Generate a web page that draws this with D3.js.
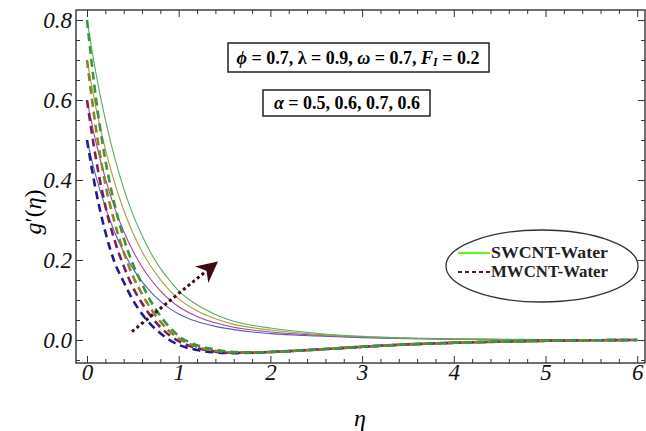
<!DOCTYPE html>
<html>
<head>
<meta charset="utf-8">
<script src="https://cdn.jsdelivr.net/npm/d3@7"></script>
<style>
  body { margin: 0; background: #fff; }
  svg { display: block; }
  .axis path { stroke: #333; stroke-width: 1.4px; }
  .axis line { stroke: #333; stroke-width: 1px; }
</style>
</head>
<body>
<svg id="chart"></svg>
<script>
// eta grid shared by all curves
const eta = [0, 0.1, 0.2, 0.3, 0.4, 0.5, 0.6, 0.7, 0.8, 0.9, 1.0, 1.2, 1.4, 1.6, 1.8, 2.0, 2.5, 3.0, 3.5, 4.0, 5.0, 6.0];

// SWCNT-Water (solid)
const swBlue   = [0.50, 0.407, 0.332, 0.270, 0.220, 0.179, 0.146, 0.119, 0.097, 0.079, 0.065, 0.046, 0.034, 0.026, 0.020, 0.016, 0.010, 0.006, 0.0035, 0.002, 0.001, 0];
const swPurple = [0.60, 0.492, 0.404, 0.331, 0.272, 0.223, 0.183, 0.150, 0.123, 0.101, 0.083, 0.059, 0.043, 0.032, 0.025, 0.020, 0.012, 0.007, 0.004, 0.002, 0.001, 0];
const swOlive  = [0.70, 0.578, 0.477, 0.394, 0.325, 0.268, 0.221, 0.183, 0.151, 0.124, 0.103, 0.073, 0.053, 0.039, 0.031, 0.025, 0.014, 0.008, 0.0045, 0.0025, 0.001, 0];
const swGreen  = [0.80, 0.664, 0.551, 0.457, 0.379, 0.314, 0.261, 0.216, 0.179, 0.149, 0.123, 0.088, 0.064, 0.047, 0.037, 0.030, 0.017, 0.009, 0.005, 0.003, 0.001, 0];

// MWCNT-Water (dashed)
const mwBlue   = [0.50, 0.37, 0.27, 0.195, 0.145, 0.100, 0.065, 0.038, 0.017, 0.000, -0.012, -0.025, -0.031, -0.033, -0.032, -0.030, -0.024, -0.017, -0.011, -0.007, -0.002, 0];
const mwPurple = [0.60, 0.45, 0.335, 0.25, 0.185, 0.132, 0.092, 0.058, 0.032, 0.012, -0.003, -0.020, -0.029, -0.032, -0.032, -0.030, -0.024, -0.017, -0.011, -0.007, -0.002, 0];
const mwOlive  = [0.70, 0.525, 0.39, 0.295, 0.22, 0.160, 0.115, 0.077, 0.046, 0.022, 0.004, -0.017, -0.027, -0.031, -0.031, -0.030, -0.024, -0.017, -0.011, -0.007, -0.002, 0];
const mwGreen  = [0.80, 0.60, 0.45, 0.34, 0.255, 0.190, 0.140, 0.095, 0.060, 0.032, 0.010, -0.013, -0.024, -0.030, -0.031, -0.030, -0.024, -0.017, -0.011, -0.007, -0.002, 0];

const xTicks = [0, 1, 2, 3, 4, 5, 6];
const yTicks = [0.0, 0.2, 0.4, 0.6, 0.8];

// arrow (data units): tail -> head
const arrowFrom = [0.49, 0.021];
const arrowTo = [1.41, 0.193];

const width = 646, height = 431;
const serif = "'Liberation Serif', 'Times New Roman', serif";
const svg = d3.select('#chart').attr('width', width).attr('height', height);

const x = d3.scaleLinear().domain([-0.12, 6.085]).range([76, 645]);
const y = d3.scaleLinear().domain([-0.0575, 0.825]).range([363, 10]);

const series = [
  {vals: swBlue, color: '#5a5ac8', dash: null},
  {vals: swPurple, color: '#a2469a', dash: null},
  {vals: swOlive, color: '#a6a040', dash: null},
  {vals: swGreen, color: '#5aae5a', dash: null},
  {vals: mwBlue, color: '#1c1c8c', dash: '8,5'},
  {vals: mwPurple, color: '#7c1e62', dash: '8,5'},
  {vals: mwOlive, color: '#8a8424', dash: '8,5'},
  {vals: mwGreen, color: '#3e943e', dash: '8,5'},
];

const line = d3.line()
  .curve(d3.curveMonotoneX)
  .x((d) => x(d[0]))
  .y((d) => y(d[1]));

const plot = svg.append('g');

plot.selectAll('path.curve')
  .data(series)
  .enter()
  .append('path')
  .attr('class', 'curve')
  .attr('fill', 'none')
  .attr('stroke', (d) => d.color)
  .attr('stroke-width', (d) => d.dash ? 2.6 : 1.1)
  .attr('stroke-dasharray', (d) => d.dash)
  .attr('d', (d) => line(eta.map((e, i) => [e, d.vals[i]])));

// frame axes, ticks inward
const xMinor = d3.range(-0.0, 6.01, 0.2).filter((v) => Math.abs(v - Math.round(v)) > 0.01);
const yMinor = d3.range(-0.05, 0.826, 0.05).filter((v) => Math.abs(v * 5 - Math.round(v * 5)) > 0.01);

svg.append('g').attr('class', 'axis')
  .attr('transform', `translate(0,${y.range()[0]})`)
  .call(d3.axisBottom(x).tickValues(xTicks).tickSize(-7).tickPadding(9).tickFormat(d3.format('d')));
svg.append('g').attr('class', 'axis')
  .attr('transform', `translate(0,${y.range()[0]})`)
  .call(d3.axisBottom(x).tickValues(xMinor).tickSize(-4).tickFormat(''));

svg.append('g').attr('class', 'axis')
  .attr('transform', `translate(0,${y.range()[1]})`)
  .call(d3.axisTop(x).tickValues(xTicks).tickSize(-7).tickFormat(''));
svg.append('g').attr('class', 'axis')
  .attr('transform', `translate(0,${y.range()[1]})`)
  .call(d3.axisTop(x).tickValues(xMinor).tickSize(-4).tickFormat(''));

svg.append('g').attr('class', 'axis')
  .attr('transform', `translate(${x.range()[0]},0)`)
  .call(d3.axisLeft(y).tickValues(yTicks).tickSize(-7).tickPadding(4).tickFormat(d3.format('.1f')));
svg.append('g').attr('class', 'axis')
  .attr('transform', `translate(${x.range()[0]},0)`)
  .call(d3.axisLeft(y).tickValues(yMinor).tickSize(-4).tickFormat(''));

svg.append('g').attr('class', 'axis')
  .attr('transform', `translate(${x.range()[1]},0)`)
  .call(d3.axisRight(y).tickValues(yTicks).tickSize(-7).tickFormat(''));
svg.append('g').attr('class', 'axis')
  .attr('transform', `translate(${x.range()[1]},0)`)
  .call(d3.axisRight(y).tickValues(yMinor).tickSize(-4).tickFormat(''));

svg.selectAll('.axis .tick text')
  .attr('dy', null)
  .attr('dominant-baseline', 'central')
  .style('font-family', serif)
  .style('font-style', 'italic')
  .style('font-size', '23px')
  .style('fill', '#111');
svg.selectAll('.axis .domain').attr('d', null);
svg.append('rect')
  .attr('x', x.range()[0]).attr('y', y.range()[1])
  .attr('width', x.range()[1] - x.range()[0])
  .attr('height', y.range()[0] - y.range()[1])
  .attr('fill', 'none').attr('stroke', '#333').attr('stroke-width', 1.4);

// axis labels
svg.append('text')
  .attr('x', 360).attr('y', 418)
  .attr('text-anchor', 'middle')
  .attr('dominant-baseline', 'central')
  .style('font-family', serif)
  .style('font-style', 'italic')
  .style('font-size', '24px')
  .text('η');

const yl = svg.append('text')
  .attr('transform', 'translate(33,212) rotate(-90)')
  .attr('text-anchor', 'middle')
  .attr('dominant-baseline', 'central')
  .style('font-family', serif)
  .style('font-size', '24px');
yl.append('tspan').style('font-style', 'italic').text('g');
yl.append('tspan').text('′(');
yl.append('tspan').style('font-style', 'italic').text('η');
yl.append('tspan').text(')');

// arrow
const defs = svg.append('defs');
defs.append('marker')
  .attr('id', 'head')
  .attr('viewBox', '0 0 10 10')
  .attr('refX', 9).attr('refY', 5)
  .attr('markerWidth', 7).attr('markerHeight', 7)
  .attr('markerUnits', 'strokeWidth')
  .attr('orient', 'auto')
  .append('path')
  .attr('d', 'M0,0 L10,5 L0,10 L3,5 Z')
  .attr('fill', '#3a0c10');

svg.append('line')
  .attr('x1', x(arrowFrom[0])).attr('y1', y(arrowFrom[1]))
  .attr('x2', x(arrowTo[0])).attr('y2', y(arrowTo[1]))
  .attr('stroke', '#3a0c10')
  .attr('stroke-width', 3)
  .attr('stroke-dasharray', '3,3')
  .attr('marker-end', 'url(#head)');

// annotation boxes
const b1 = svg.append('g');
b1.append('rect').attr('x', 228).attr('y', 43).attr('width', 261).attr('height', 29)
  .attr('fill', '#fff').attr('stroke', '#222').attr('stroke-width', 1.5);
const t1 = b1.append('text')
  .attr('x', 358).attr('y', 58)
  .attr('text-anchor', 'middle').attr('dominant-baseline', 'central')
  .style('font-family', serif).style('font-weight', 'bold').style('font-size', '18px');
t1.append('tspan').style('font-style', 'italic').text('ϕ');
t1.append('tspan').text(' = 0.7, λ = 0.9, ');
t1.append('tspan').style('font-style', 'italic').text('ω');
t1.append('tspan').text(' = 0.7, ');
t1.append('tspan').style('font-style', 'italic').text('F');
t1.append('tspan').style('font-style', 'italic').style('font-size', '12px').attr('dy', 4).text('I');
t1.append('tspan').attr('dy', -4).text(' = 0.2');

const b2 = svg.append('g');
b2.append('rect').attr('x', 263).attr('y', 90).attr('width', 167).attr('height', 26)
  .attr('fill', '#fff').attr('stroke', '#222').attr('stroke-width', 1.5);
const t2 = b2.append('text')
  .attr('x', 347).attr('y', 103)
  .attr('text-anchor', 'middle').attr('dominant-baseline', 'central')
  .style('font-family', serif).style('font-weight', 'bold').style('font-size', '18px');
t2.append('tspan').style('font-style', 'italic').text('α');
t2.append('tspan').text(' = 0.5, 0.6, 0.7, 0.6');

// legend
const legend = svg.append('g');
legend.append('ellipse')
  .attr('cx', 542).attr('cy', 266).attr('rx', 96).attr('ry', 36)
  .attr('fill', '#fff').attr('stroke', '#333').attr('stroke-width', 1.3);

const legendItems = [
  {label: 'SWCNT-Water', color: '#66ee22', dash: null},
  {label: 'MWCNT-Water', color: '#4a1a2e', dash: '4,3'},
];

legend.selectAll('line.key')
  .data(legendItems)
  .enter()
  .append('line')
  .attr('class', 'key')
  .attr('x1', 458).attr('x2', 490)
  .attr('y1', (d, i) => 253 + i * 19)
  .attr('y2', (d, i) => 253 + i * 19)
  .attr('stroke', (d) => d.color)
  .attr('stroke-width', 2.2)
  .attr('stroke-dasharray', (d) => d.dash);

legend.selectAll('text.key')
  .data(legendItems)
  .enter()
  .append('text')
  .attr('class', 'key')
  .attr('x', 491)
  .attr('y', (d, i) => 252 + i * 19)
  .attr('dominant-baseline', 'central')
  .attr('textLength', 117)
  .attr('lengthAdjust', 'spacingAndGlyphs')
  .style('font-family', serif)
  .style('font-weight', 'bold')
  .style('font-size', '16.5px')
  .style('fill', '#222')
  .text((d) => d.label);
</script>
</body>
</html>
